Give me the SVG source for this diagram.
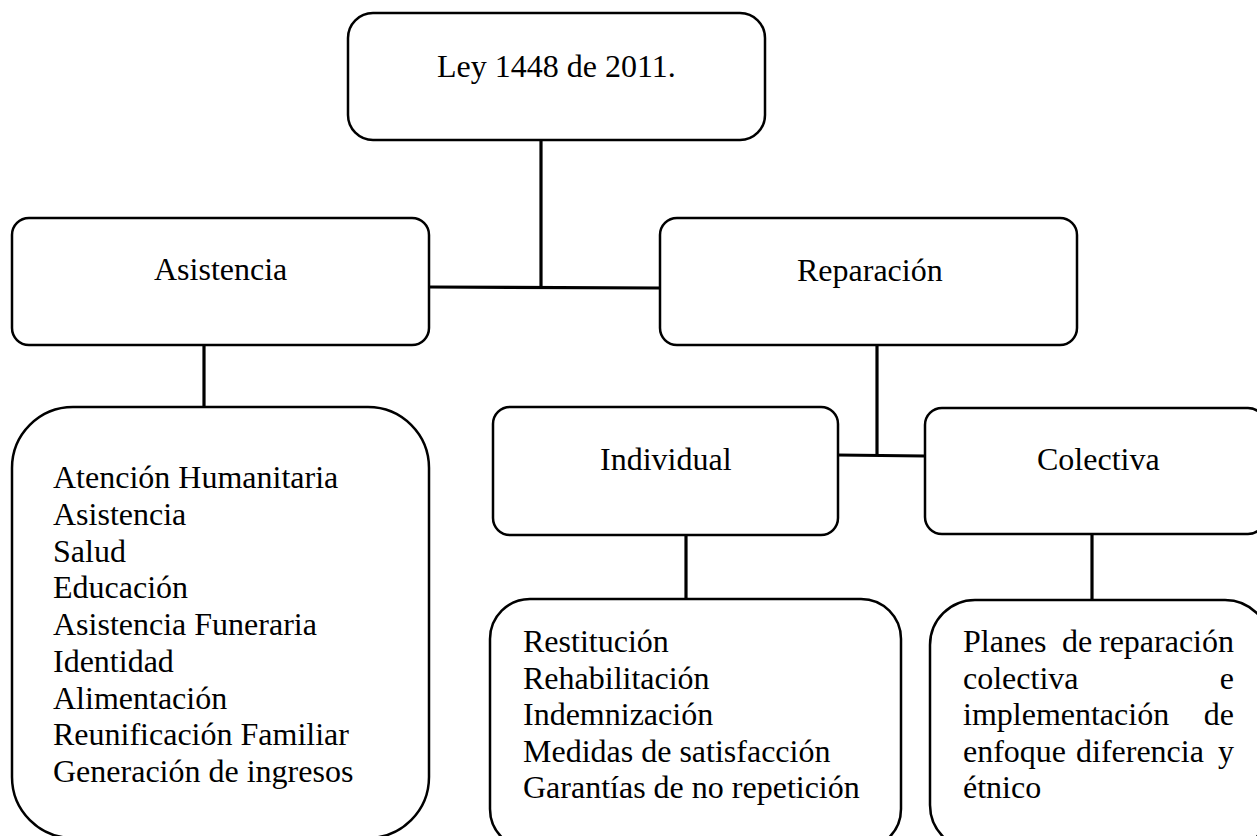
<svg xmlns="http://www.w3.org/2000/svg" width="1257" height="836" viewBox="0 0 1257 836">
<style>
.box{fill:#fff;stroke:#000;stroke-width:2.5}
.conn line{stroke:#000;stroke-width:3.2}
text{font-size:32px;fill:#000}
</style>
<rect width="1257" height="836" fill="#fff"/>
<g id="connectors" class="conn">
<line x1="541" y1="140" x2="541" y2="288"/>
<line x1="429" y1="287" x2="660" y2="288"/>
<line x1="204" y1="345" x2="204" y2="407"/>
<line x1="877" y1="345" x2="877" y2="455"/>
<line x1="837" y1="455" x2="925" y2="456"/>
<line x1="686" y1="535" x2="686" y2="599"/>
<line x1="1092" y1="534" x2="1092" y2="600"/>
</g>
<g font-family="Liberation Serif, Times New Roman, DejaVu Serif, serif">
<g id="n-ley">
<rect class="box" x="348" y="13" width="417" height="127" rx="25"/>
<text x="437" y="77">Ley 1448 de 2011.</text>
</g>
<g id="n-asistencia">
<rect class="box" x="12" y="218" width="417" height="127" rx="17"/>
<text x="154" y="280">Asistencia</text>
</g>
<g id="n-reparacion">
<rect class="box" x="660" y="218" width="417" height="127" rx="17"/>
<text x="797" y="281">Reparación</text>
</g>
<g id="n-asistencia-list">
<rect class="box" x="12" y="407" width="417" height="431" rx="61"/>
<text x="53" y="488">Atención Humanitaria</text>
<text x="53" y="524.75">Asistencia</text>
<text x="53" y="561.5">Salud</text>
<text x="53" y="598.25">Educación</text>
<text x="53" y="635">Asistencia Funeraria</text>
<text x="53" y="671.75">Identidad</text>
<text x="53" y="708.5">Alimentación</text>
<text x="53" y="745.25">Reunificación Familiar</text>
<text x="53" y="782">Generación de ingresos</text>
</g>
<g id="n-individual">
<rect class="box" x="493" y="407" width="345" height="128" rx="17"/>
<text x="600" y="470">Individual</text>
</g>
<g id="n-colectiva">
<rect class="box" x="925" y="408" width="340" height="126" rx="17"/>
<text x="1037" y="470">Colectiva</text>
</g>
<g id="n-individual-list">
<rect class="box" x="490" y="599" width="411" height="250" rx="40"/>
<text x="523" y="652">Restitución</text>
<text x="523" y="688.5">Rehabilitación</text>
<text x="523" y="725">Indemnización</text>
<text x="523" y="761.5">Medidas de satisfacción</text>
<text x="523" y="798">Garantías de no repetición</text>
</g>
<g id="n-colectiva-list">
<rect class="box" x="930" y="600" width="340" height="250" rx="45"/>
<text x="963" y="652">Planes</text>
<text x="1062" y="652">de</text>
<text x="1234" y="652" text-anchor="end">reparación</text>
<text x="963" y="688.5">colectiva</text>
<text x="1234" y="688.5" text-anchor="end">e</text>
<text x="963" y="725">implementación</text>
<text x="1234" y="725" text-anchor="end">de</text>
<text x="963" y="761.5">enfoque</text>
<text x="1076" y="761.5">diferencia</text>
<text x="1234" y="761.5" text-anchor="end">y</text>
<text x="963" y="798">étnico</text>
</g>
</g>
</svg>
